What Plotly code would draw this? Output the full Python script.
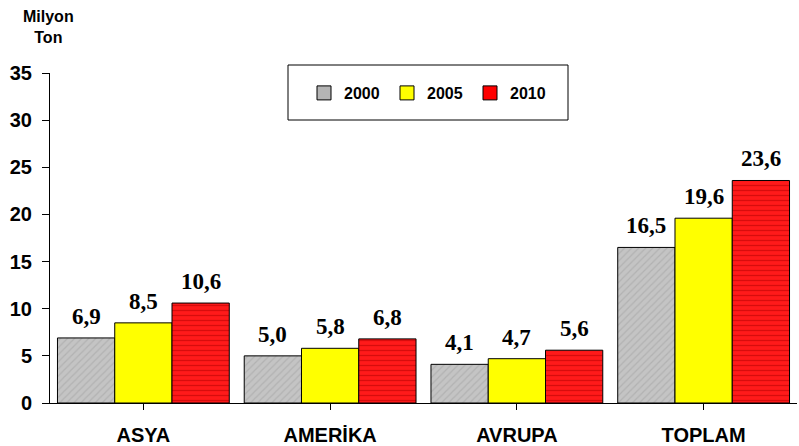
import plotly.graph_objects as go

categories = ["ASYA", "AMERİKA", "AVRUPA", "TOPLAM"]
years = ["2000", "2005", "2010"]
v2000 = [6.9, 5.0, 4.1, 16.5]
v2005 = [8.5, 5.8, 4.7, 19.6]
v2010 = [10.6, 6.8, 5.6, 23.6]
y_ticks = [0, 5, 10, 15, 20, 25, 30, 35]

series = [v2000, v2005, v2010]
colors = ["#C4C4C4", "#FFFF00", "#FF1A1A"]
pat_shapes = ["/", "", "-"]
pat_fg = ["#A0A0A0", "#FFFF00", "#B00000"]
legend_colors = ["#B4B4B4", "#FFFF00", "#FF0000"]

L, R, T, B = 50, 2, 73, 43
W, H = 799, 446
PW, PH = W - L - R, H - T - B
BARGAP = 0.08

def px(x):
    return (x - L) / PW

def py(y):
    return (H - B - y) / PH

fig = go.Figure()
annotations = []
bw = (1 - BARGAP) / len(series)
for j, (name, vals, c, ps, fg) in enumerate(zip(years, series, colors, pat_shapes, pat_fg)):
    fig.add_trace(go.Bar(
        x=list(range(len(categories))), y=vals, name=name, showlegend=False,
        marker=dict(color=c, line=dict(color="black", width=1),
                    pattern=dict(shape=ps, fgcolor=fg, size=5, solidity=0.25)),
    ))
    for i, v in enumerate(vals):
        annotations.append(dict(
            x=i + (j - 1) * bw, y=v, xref="x", yref="y", yanchor="bottom", yshift=7,
            text="<b>" + f"{v:.1f}".replace(".", ",") + "</b>", showarrow=False,
            font=dict(family="Liberation Serif", size=23, color="black")))

# legend entries (plain squares)
for name, c in zip(years, legend_colors):
    fig.add_trace(go.Scatter(x=[None], y=[None], name="<b>" + name + "</b>", mode="markers",
                             marker=dict(symbol="square", size=14, color=c,
                                         line=dict(color="black", width=1))))

annotations.append(dict(text="<b>Milyon<br>Ton</b>", xref="paper", yref="paper",
                        x=px(48), y=py(27), xanchor="center", yanchor="middle",
                        showarrow=False, font=dict(size=16, family="Liberation Sans")))

fig.update_layout(
    width=W, height=H,
    margin=dict(l=L, r=R, t=T, b=B),
    plot_bgcolor="white", paper_bgcolor="white",
    barmode="group", bargap=BARGAP, bargroupgap=0,
    font=dict(family="Liberation Sans", color="black"),
    legend=dict(orientation="h", x=px(304), y=py(93), xanchor="left", yanchor="middle",
                font=dict(size=16, family="Liberation Sans", color="black"),
                bgcolor="rgba(0,0,0,0)", itemwidth=30, entrywidth=38, traceorder="normal"),
    shapes=[dict(type="rect", xref="paper", yref="paper",
                 x0=px(288), x1=px(568), y0=py(120), y1=py(65),
                 line=dict(color="black", width=1), fillcolor="white", layer="below")],
    annotations=annotations,
)
fig.update_xaxes(
    range=[-0.5, len(categories) - 0.5],
    showline=True, linecolor="black", linewidth=1, ticks="outside", tickson="boundaries",
    ticklen=6, tickcolor="black", automargin=False, ticklabelstandoff=8,
    tickfont=dict(size=20, family="Liberation Sans"),
    tickvals=list(range(len(categories))), ticktext=[f"<b>{c}</b>" for c in categories],
)
fig.update_yaxes(
    range=[0, 35], tickvals=y_ticks, ticktext=[f"<b>{t}</b>" for t in y_ticks],
    showline=True, linecolor="black", linewidth=1, ticks="outside", ticklen=7,
    tickcolor="black", showgrid=False, zeroline=False, automargin=False,
    ticklabelstandoff=6,
    tickfont=dict(size=20, family="Liberation Sans"),
)
fig.write_html("out.html", config={"displayModeBar": False},
               post_script="document.body.style.margin='0';")
